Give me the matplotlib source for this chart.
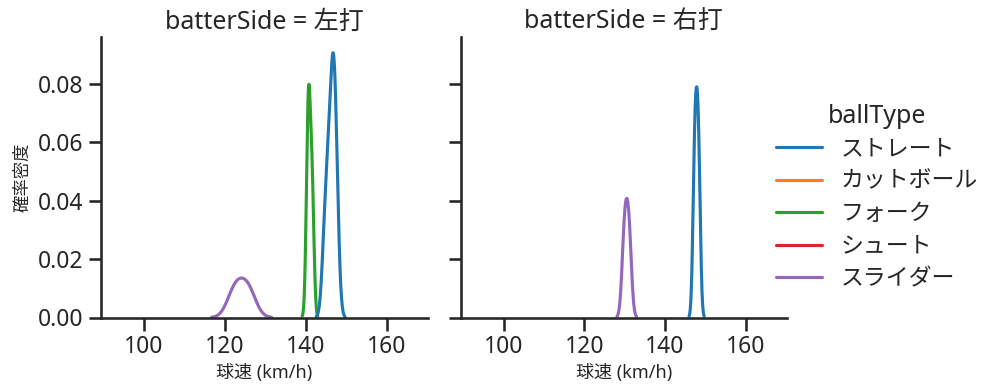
import warnings
import numpy as np
import pandas as pd
import matplotlib
matplotlib.use("Agg")
import matplotlib.pyplot as plt
import seaborn as sns
from matplotlib.lines import Line2D

warnings.filterwarnings("ignore")

# ---- data -------------------------------------------------------------
ball_types = ["ストレート", "カットボール", "フォーク", "シュート", "スライダー"]
sides = ["左打", "右打"]
colors = ["#1f77b4", "#ff7f0e", "#2ca02c", "#d62728", "#9467bd"]

# pitch speeds (km/h)
left_straight = [144.70, 145.59, 146.26, 146.71, 147.05, 147.50]
left_cut = [138.0, 138.0]
left_fork = [140.46, 140.83, 141.57]
left_shoot = [143.0]
left_slider = [122.58, 125.72]

right_straight = [147.25, 147.80, 148.35]
right_cut = [139.0]
right_fork = []
right_shoot = [145.0, 145.0]
right_slider = [129.98, 131.02]

x_ticks = [100, 120, 140, 160]
y_ticks = [0.00, 0.02, 0.04, 0.06, 0.08]

# ---- build table ------------------------------------------------------
groups = {
    ("左打", "ストレート"): left_straight,
    ("左打", "カットボール"): left_cut,
    ("左打", "フォーク"): left_fork,
    ("左打", "シュート"): left_shoot,
    ("左打", "スライダー"): left_slider,
    ("右打", "ストレート"): right_straight,
    ("右打", "カットボール"): right_cut,
    ("右打", "フォーク"): right_fork,
    ("右打", "シュート"): right_shoot,
    ("右打", "スライダー"): right_slider,
}
rows = []
for (side, bt), vals in groups.items():
    for v in vals:
        rows.append({"batterSide": side, "ballType": bt, "speed": v})
df = pd.DataFrame(rows)

# ---- style ------------------------------------------------------------
sns.set_theme(style="ticks", context="talk")
plt.rcParams["font.family"] = ["Noto Sans", "Noto Sans CJK JP", "DejaVu Sans"]

g = sns.displot(
    data=df, x="speed", hue="ballType", col="batterSide", kind="kde",
    hue_order=ball_types, col_order=sides, palette=colors, legend=False,
    height=4, aspect=1,
)

fig = g.figure
fig.set_size_inches(9.97, 3.91)
fig.set_dpi(100)

axes = g.axes.flatten()
W, H = 997.0, 391.0
positions = [
    (100.5 / W, (H - 317.5) / H, 327.5 / W, 280.5 / H),
    (460.7 / W, (H - 317.5) / H, 326.0 / W, 280.5 / H),
]
for ax, pos in zip(axes, positions):
    ax.set_position(pos)
    ax.set_xlim(89.4, 170.1)
    ax.set_ylim(0, 0.0959)
    ax.set_xticks(x_ticks)
    ax.set_yticks(y_ticks)
    ax.set_xlabel("球速 (km/h)", fontsize=13)
    ax.set_ylabel("")
axes[0].set_ylabel("確率密度", fontsize=12.5)

handles = [Line2D([], [], color=c, lw=2.25) for c in colors]
fig.legend(handles, ball_types, title="ballType", loc="center left",
           bbox_to_anchor=(0.758, 0.495), frameon=False,
           fontsize=16.5, title_fontsize=18, labelspacing=0.37)

fig.savefig("out.png", dpi=100)
